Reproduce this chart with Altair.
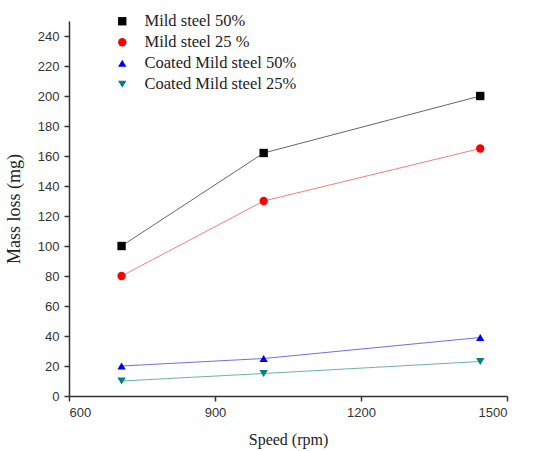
import altair as alt
import pandas as pd

speeds = [708, 1000, 1445]
series = ["Mild steel 50%", "Mild steel 25 %", "Coated Mild steel 50%", "Coated Mild steel 25%"]
mild50 = [100, 162, 200]
mild25 = [80, 130, 165]
coated50 = [20, 25, 39]
coated25 = [10, 15, 23]

marker_colors = ["#000000", "#ff0000", "#0000ff", "#008080"]
line_colors = ["#666666", "#f08080", "#7070e0", "#70b0b0"]
shapes = ["square", "circle", "triangle-up", "triangle-down"]

rows = []
for name, vals in zip(series, [mild50, mild25, coated50, coated25]):
    for s, v in zip(speeds, vals):
        rows.append({"Speed": s, "Mass": v, "Series": name, "Line": name})
df = pd.DataFrame(rows)

SERIF = "Liberation Serif, Times New Roman, serif"

x = alt.X("Speed:Q", title="Speed (rpm)",
          scale=alt.Scale(domain=[600, 1500], nice=False),
          axis=alt.Axis(values=[600, 900, 1200, 1500], format="d", grid=False))
y = alt.Y("Mass:Q", title="Mass loss (mg)",
          scale=alt.Scale(domain=[0, 250], nice=False),
          axis=alt.Axis(values=list(range(0, 241, 20)), grid=False, titleFontSize=18))

lines = alt.Chart(df).mark_line(strokeWidth=1).encode(
    x=x, y=y,
    stroke=alt.Stroke("Line:N", scale=alt.Scale(domain=series, range=line_colors), legend=None),
)

points = alt.Chart(df).mark_point(filled=True, size=70, opacity=1).encode(
    x=x, y=y,
    color=alt.Color("Series:N", scale=alt.Scale(domain=series, range=marker_colors),
                    legend=alt.Legend(title=None, orient="none", legendX=45, legendY=-8,
                                      labelFont=SERIF, labelFontSize=16.5, labelOffset=14,
                                      labelColor="#222", symbolSize=70, rowPadding=4)),
    shape=alt.Shape("Series:N", scale=alt.Scale(domain=series, range=shapes)),
)

chart = alt.layer(lines, points).resolve_legend(stroke="independent").properties(
    width=438, height=375,
    autosize=alt.AutoSizeParams(type="none"),
    padding={"left": 69, "top": 21, "right": 41, "bottom": 55},
).configure_view(stroke=None).configure_axis(
    domainColor="#333", tickColor="#333", domainWidth=1.5, tickWidth=1.5, tickSize=5,
    labelFont="Liberation Sans", labelFontSize=13, labelColor="#333", labelPadding=5,
    titleFont=SERIF, titleFontSize=16, titleFontWeight="normal", titleColor="#222",
).configure_axisY(titlePadding=14).configure_axisX(titlePadding=12).configure_legend(
    labelFont=SERIF
)

chart.save("out.html", embed_options={"renderer": "svg", "actions": False})
